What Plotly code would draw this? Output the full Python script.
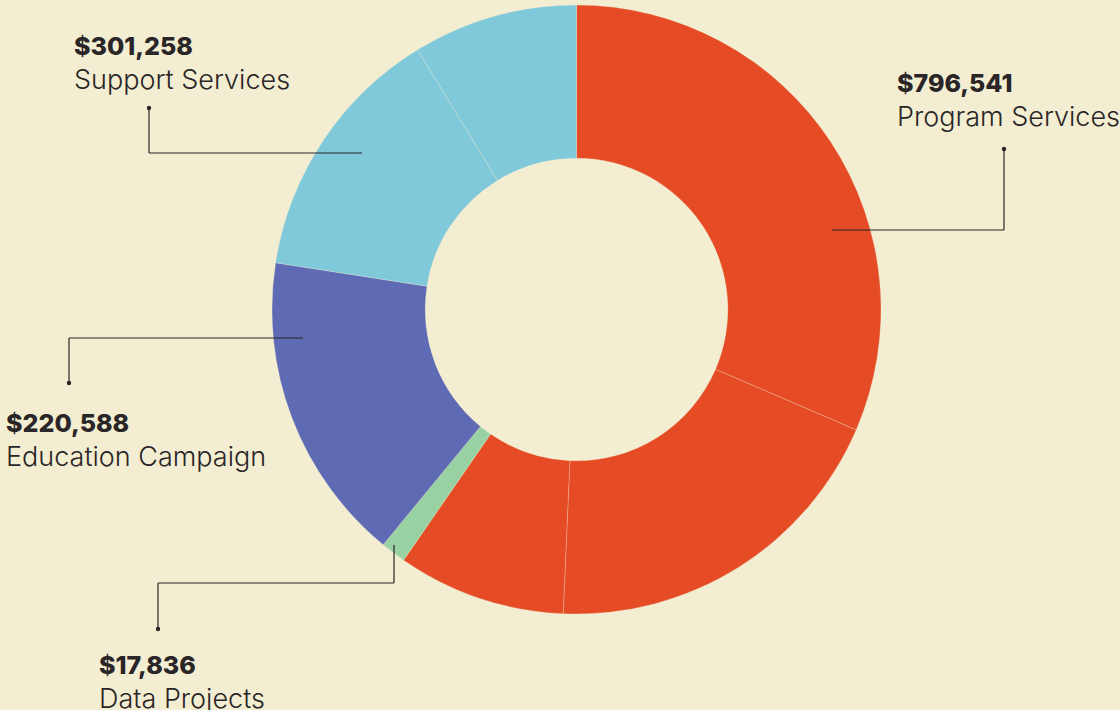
import plotly.graph_objects as go

# ── Data ──────────────────────────────────────────────────────────────
categories = ["Program Services", "Data Projects", "Education Campaign", "Support Services"]
totals = [796541, 17836, 220588, 301258]

# the donut is drawn from smaller pieces; each piece belongs to a category
slice_category = ["Program Services", "Program Services", "Program Services",
                  "Data Projects", "Education Campaign",
                  "Support Services", "Support Services"]
slice_values = [420500, 256900, 119141, 17836, 220588, 184400, 116858]

colors = {
    "Program Services": "#e54b24",
    "Data Projects": "#98d1a2",
    "Education Campaign": "#5e6ab3",
    "Support Services": "#80c9db",
}

W, H = 1120, 710
BG = "#f3eed2"
INK = "#2a2526"


def px(x):
    return x / W


def py(y):
    return 1 - y / H


fig = go.Figure(go.Pie(
    values=slice_values,
    labels=[f"{c} {i}" for i, c in enumerate(slice_category)],
    marker=dict(colors=[colors[c] for c in slice_category],
                line=dict(color="rgba(243,238,210,0.45)", width=0.6)),
    hole=0.497,
    sort=False,
    direction="clockwise",
    rotation=0,
    textinfo="none",
    hoverinfo="skip",
    domain=dict(x=[px(272), px(881)], y=[py(614), py(5)]),
))

# ── Labels + leader lines (pixel layout) ─────────────────────────────
label_pos = {  # text left x, top of number line
    "Program Services": (895, 66),
    "Support Services": (72, 29),
    "Education Campaign": (4, 406),
    "Data Projects": (97, 648),
}
leaders = {
    "Program Services": [(832, 230), (1004, 230), (1004, 149)],
    "Support Services": [(362, 153), (149, 153), (149, 108)],
    "Education Campaign": [(303, 338), (69, 338), (69, 383)],
    "Data Projects": [(394, 545), (394, 583), (158, 583), (158, 629)],
}

font_family = "Inter, 'Open Sans', sans-serif"
annotations = []
shapes = []
for cat, total in zip(categories, totals):
    x0, y0 = label_pos[cat]
    annotations.append(dict(
        x=px(x0), y=py(y0), xref="paper", yref="paper",
        xanchor="left", yanchor="top", showarrow=False,
        text=f"${total:,}",
        font=dict(family=font_family, size=25, color=INK, weight=800),
    ))
    annotations.append(dict(
        x=px(x0), y=py(y0 + 32), xref="paper", yref="paper",
        xanchor="left", yanchor="top", showarrow=False,
        text=cat,
        font=dict(family=font_family, size=27, color=INK, weight=300),
    ))
    pts = leaders[cat]
    for (ax, ay), (bx, by) in zip(pts[:-1], pts[1:]):
        shapes.append(dict(type="line", xref="paper", yref="paper",
                           x0=px(ax), y0=py(ay), x1=px(bx), y1=py(by),
                           line=dict(color=INK, width=1.2)))
    ex, ey = pts[-1]
    shapes.append(dict(type="circle", xref="paper", yref="paper",
                       x0=px(ex - 2.2), x1=px(ex + 2.2),
                       y0=py(ey + 2.2), y1=py(ey - 2.2),
                       fillcolor=INK, line=dict(width=0)))

fig.update_layout(
    width=W, height=H,
    margin=dict(l=0, r=0, t=0, b=0),
    paper_bgcolor=BG,
    plot_bgcolor=BG,
    showlegend=False,
    annotations=annotations,
    shapes=shapes,
)

# drop the browser's default page margin so the chart fills the window
fig.write_html("out.html", config={"displayModeBar": False}, post_script=(
    "document.body.style.margin='0';"
    "document.body.style.background='" + BG + "';"
))
